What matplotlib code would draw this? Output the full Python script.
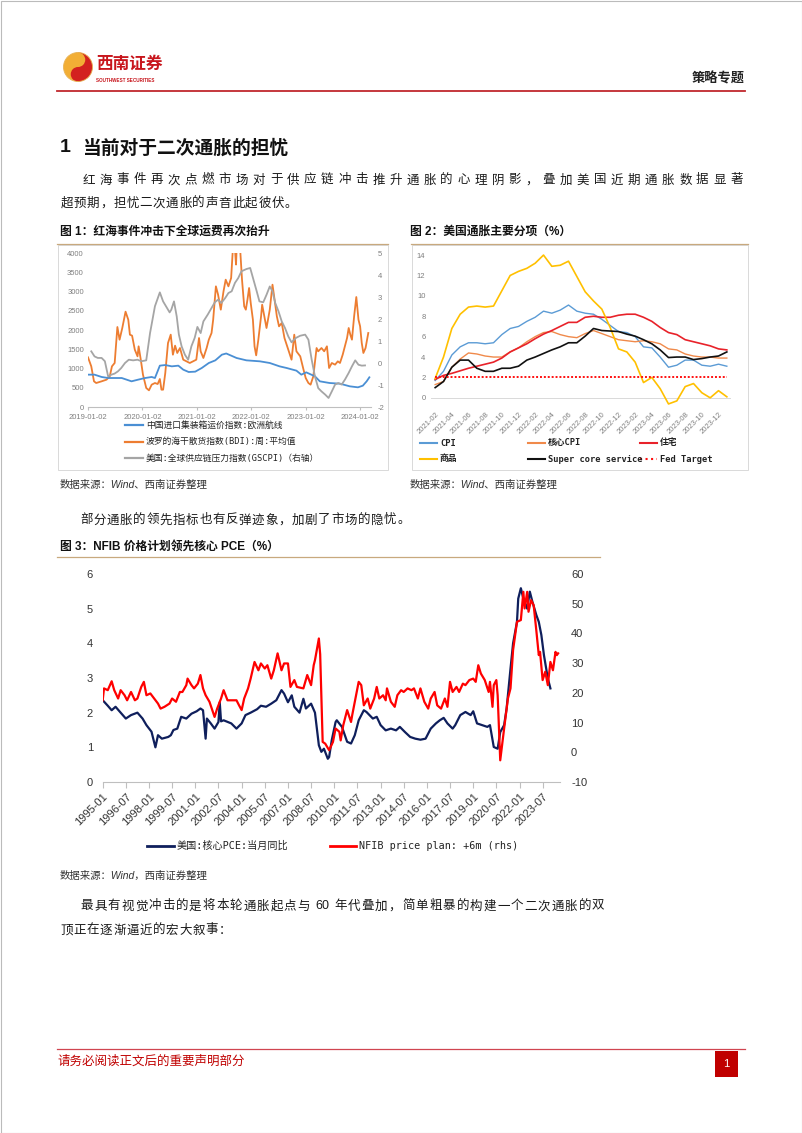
import re
import numpy as np
import pandas as pd
import matplotlib
matplotlib.use('Agg')
import matplotlib.pyplot as plt
from matplotlib.patches import Rectangle, Circle, Wedge

W, H = 802, 1133
CJK = ['Noto Sans CJK SC', 'DejaVu Sans']
MONO = ['DejaVu Sans Mono', 'Noto Sans CJK SC']
ARIAL = ['Liberation Sans', 'Noto Sans CJK SC']
plt.rcParams['font.family'] = CJK
plt.rcParams['axes.unicode_minus'] = False

# ---------------- chart 1 data (decimal years) ----------------
t_ccfi = [2019.00, 2019.12, 2019.25, 2019.37, 2019.62, 2019.80, 2019.92, 2020.05, 2020.17, 2020.23,
          2020.32, 2020.42, 2020.54, 2020.66, 2020.75, 2020.85, 2020.97, 2021.09, 2021.22, 2021.34,
          2021.46, 2021.54, 2021.73, 2021.91, 2022.16, 2022.34, 2022.52, 2022.65, 2022.83, 2022.92,
          2023.01, 2023.17, 2023.26, 2023.44, 2023.63, 2023.81, 2023.96, 2024.05, 2024.12, 2024.17]
ccfi = [840, 840, 780, 753, 753, 667, 710, 753, 780, 753,
        1074, 1090, 1056, 1074, 970, 909, 918, 1013, 1143, 1212,
        1359, 1390, 1273, 1212, 1186, 1143, 1056, 1013, 944, 840,
        900, 797, 667, 623, 606, 537, 511, 554, 667, 771]

t_bdi = [2019.00, 2019.06, 2019.11, 2019.15, 2019.25, 2019.34, 2019.40, 2019.44, 2019.49, 2019.54,
         2019.58, 2019.63, 2019.69, 2019.74, 2019.77, 2019.81, 2019.86, 2019.91, 2019.93, 2019.97,
         2020.01, 2020.07, 2020.12, 2020.17, 2020.23, 2020.28, 2020.32, 2020.35, 2020.38, 2020.42,
         2020.47, 2020.52, 2020.56, 2020.60, 2020.64, 2020.69, 2020.75, 2020.81, 2020.87, 2020.93,
         2020.99, 2021.04, 2021.07, 2021.12, 2021.18, 2021.22, 2021.27, 2021.30, 2021.35, 2021.39,
         2021.44, 2021.49, 2021.53, 2021.58, 2021.63, 2021.67, 2021.70, 2021.72, 2021.75, 2021.78,
         2021.80, 2021.83, 2021.87, 2021.90, 2021.93, 2021.96, 2021.99, 2022.03, 2022.06, 2022.09,
         2022.13, 2022.18, 2022.20, 2022.24, 2022.28, 2022.34, 2022.39, 2022.42, 2022.47, 2022.51,
         2022.56, 2022.61, 2022.65, 2022.70, 2022.74, 2022.79, 2022.83, 2022.90, 2022.96, 2023.00,
         2023.05, 2023.09, 2023.14, 2023.20, 2023.23, 2023.29, 2023.34, 2023.39, 2023.43, 2023.48,
         2023.54, 2023.59, 2023.63, 2023.68, 2023.72, 2023.76, 2023.79, 2023.82, 2023.85, 2023.89,
         2023.93, 2023.97, 2024.00, 2024.03, 2024.06, 2024.10, 2024.15]
bdi = [1290, 1056, 667, 623, 667, 710, 797, 1056, 1143, 2078,
       1749, 2052, 2476, 2268, 1879, 1853, 1489, 1316, 1576, 1229,
       840, 494, 433, 580, 623, 597, 727, 450, 450, 883,
       1662, 1879, 1359, 1593, 1403, 1532, 1229, 1186, 1143, 1186,
       1229, 1792, 1446, 1273, 1532, 1749, 1922, 2268, 3134, 2918,
       2528, 3004, 3307, 3134, 3350, 4300, 4100, 3700, 4800, 5600,
       4000, 3307, 2615, 2528, 2788, 3091, 2701, 2268, 1576, 1342,
       1749, 2355, 2658, 2355, 2052, 2528, 3177, 2874, 2355, 2095,
       2182, 1792, 1619, 1403, 1229, 1879, 1446, 1316, 970, 753,
       623, 580, 797, 1532, 1446, 1532, 1446, 1576, 1013, 1143,
       1100, 1186, 1143, 1359, 1576, 1792, 2052, 1879, 1749, 2355,
       2857, 2268, 2095, 1662, 1403, 1532, 1922]

t_gscpi = [2019.06, 2019.12, 2019.18, 2019.25, 2019.31, 2019.37, 2019.43, 2019.49, 2019.55, 2019.61,
           2019.68, 2019.75, 2019.83, 2019.91, 2019.98, 2020.07, 2020.14, 2020.23, 2020.32, 2020.38,
           2020.44, 2020.50, 2020.53, 2020.58, 2020.63, 2020.67, 2020.72, 2020.78, 2020.84, 2020.90,
           2020.96, 2021.01, 2021.07, 2021.12, 2021.20, 2021.27, 2021.33, 2021.39, 2021.45, 2021.52,
           2021.58, 2021.64, 2021.70, 2021.76, 2021.82, 2021.91, 2021.98, 2022.04, 2022.10, 2022.15,
           2022.22, 2022.28, 2022.34, 2022.39, 2022.44, 2022.50, 2022.56, 2022.62, 2022.68, 2022.74,
           2022.82, 2022.90, 2022.99, 2023.05, 2023.11, 2023.17, 2023.23, 2023.29, 2023.36, 2023.42,
           2023.48, 2023.54, 2023.60, 2023.66, 2023.72, 2023.79, 2023.85, 2023.91, 2023.97, 2024.03,
           2024.09]
gscpi = [0.53, 0.30, 0.23, 0.23, 0.08, -0.61, -0.53, -0.48, -0.38, -0.23,
         0.00, 0.15, 0.12, 0.15, 0.08, 0.12, 1.36, 2.58, 3.21, 2.80,
         2.55, 2.30, 2.42, 2.80, 2.12, 1.29, 0.76, 0.38, 0.15, 0.76,
         1.14, 1.64, 1.36, 1.89, 2.20, 2.50, 2.76, 2.88, 2.73, 2.95,
         3.18, 3.26, 3.64, 3.86, 4.17, 4.27, 4.32, 3.79, 3.26, 2.80,
         2.76, 3.10, 3.48, 3.26, 2.73, 2.35, 1.89, 1.59, 1.21, 0.94,
         1.14, 1.24, 1.29, 1.06, 0.15, -0.61, -1.14, -1.29, -1.44, -1.59,
         -1.29, -0.98, -0.91, -0.98, -0.76, -0.45, -0.15, 0.12, -0.08, -0.12,
         -0.11]

years1 = [2019, 2020, 2021, 2022, 2023, 2024]
year_labels1 = ['2019-01-02', '2020-01-02', '2021-01-02', '2022-01-02', '2023-01-02', '2024-01-02']

# ---------------- chart 2 data (monthly, 2021-02 .. 2024-01) ----------------
months2 = pd.date_range('2021-02-01', '2024-01-01', freq='MS').strftime('%Y-%m').tolist()
cpi = [1.7, 2.6, 4.2, 5.0, 5.4, 5.4, 5.3, 5.4, 6.2, 6.8, 7.0, 7.5, 7.9, 8.5, 8.3, 8.6, 9.1, 8.5,
       8.3, 8.2, 7.7, 7.1, 6.5, 6.4, 6.0, 5.0, 4.9, 4.0, 3.0, 3.2, 3.7, 3.7, 3.2, 3.1, 3.3, 3.1]
core_cpi = [1.3, 1.6, 3.0, 3.8, 4.4, 4.3, 4.1, 4.0, 4.0, 4.5, 4.9, 5.5, 6.0, 6.4, 6.5, 6.2, 6.0, 5.9,
            6.3, 6.6, 6.3, 6.0, 5.7, 5.6, 5.5, 5.6, 5.5, 5.3, 4.8, 4.7, 4.3, 4.1, 4.0, 4.0, 3.9, 3.9]
shelter = [1.8, 2.2, 2.4, 2.65, 2.9, 3.1, 3.3, 3.5, 3.9, 4.5, 4.9, 5.3, 5.8, 6.25, 6.6, 7.0, 7.4, 7.4,
           7.9, 8.0, 7.9, 7.9, 8.1, 8.2, 8.2, 7.9, 7.5, 6.9, 6.4, 6.2, 5.7, 5.5, 5.3, 5.1, 4.8, 4.7]
goods = [1.9, 4.0, 6.8, 8.2, 8.9, 9.0, 8.9, 9.0, 10.5, 12.0, 12.4, 12.7, 13.2, 14.0, 12.9, 13.0, 13.4, 11.9,
         10.4, 9.5, 8.7, 6.9, 4.8, 4.5, 3.5, 1.5, 2.0, 0.9, -0.6, -0.3, 1.1, 1.4, 0.5, 0.0, 0.7, 0.1]
supercore = [1.0, 1.6, 3.0, 3.7, 3.7, 2.9, 2.6, 2.6, 2.9, 2.9, 3.1, 3.7, 4.0, 4.35, 4.7, 5.0, 5.4, 5.4,
             6.05, 6.8, 6.6, 6.55, 6.5, 6.25, 6.05, 5.7, 5.3, 4.7, 3.95, 4.0, 4.0, 3.75, 3.85, 4.0, 4.1, 4.5]
fed_target = [2.0] * 36

# ---------------- chart 3 data ----------------
pce_month = ['1995-01', '1995-05', '1995-08', '1995-11', '1996-03', '1996-07', '1996-11', '1997-04', '1997-08', '1997-11',
             '1998-03', '1998-06', '1998-08', '1998-11', '1999-04', '1999-06', '1999-08', '1999-11', '2000-02', '2000-06',
             '2000-10', '2001-02', '2001-05', '2001-07', '2001-09', '2001-10', '2002-01', '2002-04', '2002-07', '2002-08',
             '2002-09', '2002-11', '2003-05', '2003-09', '2004-01', '2004-04', '2004-08', '2005-01', '2005-04', '2005-08',
             '2005-12', '2006-04', '2006-08', '2006-10', '2007-01', '2007-04', '2007-06', '2007-10', '2008-01', '2008-03',
             '2008-07', '2008-10', '2009-01', '2009-03', '2009-05', '2009-08', '2009-09', '2009-11', '2010-02', '2010-03',
             '2010-07', '2010-11', '2011-02', '2011-05', '2011-08', '2011-12', '2012-02', '2012-07', '2012-10', '2013-01',
             '2013-05', '2013-09', '2014-01', '2014-04', '2014-08', '2014-12', '2015-04', '2015-08', '2015-12', '2016-04',
             '2016-08', '2016-11', '2017-02', '2017-05', '2017-09', '2017-11', '2018-03', '2018-07', '2018-11', '2019-01',
             '2019-04', '2019-08', '2019-12', '2020-02', '2020-05', '2020-08', '2020-10', '2021-01', '2021-03', '2021-06',
             '2021-08', '2021-11', '2021-12', '2022-02', '2022-04', '2022-07', '2022-09', '2022-11', '2023-02', '2023-04',
             '2023-06', '2023-08', '2023-11', '2024-01']
pce = [2.36, 2.20, 2.07, 2.17, 2.00, 1.83, 1.93, 2.00, 1.83, 1.64,
       1.45, 1.00, 1.35, 1.25, 1.30, 1.35, 1.50, 1.54, 1.88, 1.83,
       1.97, 2.04, 2.12, 2.07, 1.25, 1.83, 1.69, 1.54, 1.73, 2.30,
       1.75, 1.78, 1.69, 1.54, 1.69, 1.93, 2.00, 2.10, 2.20, 2.17,
       2.26, 2.36, 2.65, 2.55, 2.30, 2.50, 2.17, 2.00, 2.40, 2.12,
       2.26, 2.00, 1.06, 0.87, 0.96, 0.67, 0.72, 1.20, 1.73, 1.78,
       1.59, 1.16, 1.11, 1.35, 1.78, 2.07, 2.02, 1.83, 1.88, 1.64,
       1.49, 1.54, 1.49, 1.59, 1.44, 1.30, 1.25, 1.22, 1.25, 1.54,
       1.69, 1.78, 1.85, 1.69, 1.54, 1.64, 1.93, 2.02, 1.93, 2.04,
       1.69, 1.64, 1.59, 1.64, 1.01, 0.96, 1.44, 1.64, 2.12, 3.27,
       4.00, 4.62, 5.29, 5.59, 5.29, 5.00, 5.49, 5.20, 4.82, 4.62,
       4.24, 3.66, 2.99, 2.70]

nfib_month = ['1995-01', '1995-02', '1995-05', '1995-08', '1995-10', '1996-01', '1996-03', '1996-06', '1996-08', '1996-11',
              '1997-02', '1997-04', '1997-07', '1997-09', '1997-11', '1998-02', '1998-05', '1998-08', '1998-10', '1999-01',
              '1999-05', '1999-07', '1999-10', '2000-01', '2000-03', '2000-06', '2000-07', '2000-10', '2000-12', '2001-03',
              '2001-05', '2001-07', '2001-09', '2001-12', '2002-04', '2002-06', '2002-09', '2002-11', '2003-02', '2003-05',
              '2003-09', '2003-11', '2004-01', '2004-03', '2004-06', '2004-08', '2004-11', '2005-02', '2005-04', '2005-07',
              '2005-09', '2005-12', '2006-02', '2006-05', '2006-08', '2006-10', '2007-01', '2007-03', '2007-06', '2007-08',
              '2008-01', '2008-04', '2008-07', '2008-09', '2008-10', '2009-01', '2009-02', '2009-04', '2009-06', '2009-09',
              '2009-12', '2010-02', '2010-05', '2010-06', '2010-08', '2010-11', '2011-02', '2011-03', '2011-06', '2011-08',
              '2011-10', '2011-12', '2012-03', '2012-05', '2012-08', '2012-10', '2012-12', '2013-03', '2013-05', '2013-06',
              '2013-09', '2013-12', '2014-02', '2014-05', '2014-07', '2014-10', '2015-01', '2015-03', '2015-06', '2015-08',
              '2015-11', '2016-02', '2016-04', '2016-07', '2016-09', '2016-12', '2017-03', '2017-05', '2017-07', '2017-09',
              '2017-12', '2018-02', '2018-05', '2018-07', '2018-10', '2019-01', '2019-03', '2019-05', '2019-07', '2019-10',
              '2020-01', '2020-02', '2020-04', '2020-05', '2020-07', '2020-08', '2020-10', '2021-01', '2021-04', '2021-06',
              '2021-08', '2021-11', '2022-02', '2022-04', '2022-05', '2022-07', '2022-08', '2022-10', '2022-12', '2023-02',
              '2023-04', '2023-05', '2023-07', '2023-09', '2023-11', '2024-01', '2024-03', '2024-05', '2024-06', '2024-07']
nfib = [17.5, 21.5, 20.9, 23.9, 20.9, 18.1, 20.9, 19.2, 17.5, 20.3,
        17.5, 18.1, 22.0, 23.7, 19.2, 19.8, 18.1, 16.4, 14.7, 15.3,
        16.4, 18.1, 17.0, 20.3, 20.3, 22.6, 24.8, 22.6, 21.5, 23.1,
        26.0, 21.5, 19.2, 17.0, 11.9, 14.7, 18.1, 20.9, 17.5, 17.5,
        17.5, 15.8, 14.2, 18.1, 21.5, 24.8, 30.4, 27.6, 29.9, 28.2,
        29.3, 24.8, 27.6, 33.3, 27.6, 29.9, 29.9, 22.0, 24.3, 22.0,
        21.5, 26.0, 22.6, 29.3, 31.0, 38.3, 33.0, 3.5, 2.9, 0.7,
        3.5, 8.0, 6.9, 4.0, 9.1, 14.2, 10.2, 12.5, 19.2, 23.7,
        22.6, 15.8, 18.1, 14.7, 18.1, 22.0, 18.1, 19.2, 17.5, 21.5,
        17.0, 15.3, 19.2, 20.9, 20.3, 21.5, 20.9, 21.5, 18.1, 21.5,
        17.0, 14.7, 18.1, 20.3, 15.8, 14.7, 18.1, 15.3, 23.7, 20.3,
        22.0, 20.3, 23.1, 22.6, 24.3, 24.8, 23.7, 29.3, 26.5, 24.3,
        20.3, 23.7, 15.3, 22.6, 24.3, 19.2, -2.7, 8.0, 18.1, 21.5,
        34.4, 43.9, 44.5, 54.0, 48.4, 54.0, 47.3, 51.2, 49.5, 41.1,
        32.7, 33.8, 24.3, 27.1, 22.6, 30.4, 27.6, 33.8, 32.7, 33.3]

xticks3 = pd.date_range('1995-01-01', '2023-07-01', freq='18MS')

# ---------------- page ----------------
fig = plt.figure(figsize=(W / 100, H / 100), dpi=100)
page = fig.add_axes([0, 0, 1, 1])
page.set_xlim(0, W)
page.set_ylim(H, 0)
page.axis('off')


def ax_px(l, t, r, b):
    a = fig.add_axes([l / W, 1 - b / H, (r - l) / W, (b - t) / H])
    a.set_facecolor('none')
    return a


def T(x, y, s, size=9, **kw):
    kw.setdefault('va', 'center')
    page.text(x, y, s, fontsize=size, **kw)


def tokens(s):
    return re.findall(r'[A-Za-z0-9]+| |.', s)


def jline(x0, y, s, x1=None, pitch=13.2, size=9, color='#1a1a1a'):
    tk = tokens(s)
    ws = [0.3 if t == ' ' else (0.56 * len(t) if t.isascii() else 1.0) for t in tk]
    if x1 is not None:
        pitch = (x1 - x0) / sum(ws)
    x = x0
    for t, w in zip(tk, ws):
        if t != ' ':
            fam = ARIAL if t.isascii() else CJK
            page.text(x + w * pitch / 2, y, t, ha='center', va='center', fontsize=size,
                      color=color, family=fam)
        x += w * pitch


page.add_patch(Rectangle((0.5, 0.5), W - 1, H - 1, fill=False, ec='#BBBBBB', lw=0.8))

# header logo: gold / red swirl
cx, cy, r = 78, 67, 14.5
page.add_patch(Circle((cx, cy), r, fc='#F2AE35', ec='none'))
page.add_patch(Wedge((cx, cy), r, -90, 90, fc='#D3211F', ec='none'))
page.add_patch(Circle((cx, cy - r / 2), r / 2, fc='#F2AE35', ec='none'))
page.add_patch(Circle((cx, cy + r / 2), r / 2, fc='#D3211F', ec='none'))
page.add_patch(Circle((cx, cy), r, fill=False, ec='#E8B45A', lw=0.6))
T(96, 64, '西南证券', 12, color='#C8161D', weight='bold')
T(96, 80, 'SOUTHWEST SECURITIES', 3.3, color='#C8161D', family=ARIAL, weight='bold')
T(745, 78, '策略专题', 9.5, color='#222222', weight='bold', ha='right')
page.plot([57, 745], [91, 91], color='#C0272D', lw=1.3)

T(60, 148, '1', 14, family=ARIAL, weight='bold', color='#111111')
T(82, 148, '当前对于二次通胀的担忧', 13.5, weight='bold', color='#111111')

jline(80, 180, '红海事件再次点燃市场对于供应链冲击推升通胀的心理阴影，叠加美国近期通胀数据显著', x1=745)
jline(60, 203, '超预期，担忧二次通胀的声音此起彼伏。')

# figure titles and frames
T(60, 232, '图 1：红海事件冲击下全球运费再次抬升', 8.5, weight='bold', family=ARIAL, color='#111111')
T(410, 232, '图 2：美国通胀主要分项（%）', 8.5, weight='bold', family=ARIAL, color='#111111')
for l, r in [(57, 388), (411, 748)]:
    page.add_patch(Rectangle((l + 1, 245), r - l - 1, 225, fill=False, ec='#D9D9D9', lw=0.7))
    page.plot([l, r], [244, 244], color='#C8A97E', lw=0.9)

T(60, 485, '数据来源：Wind、西南证券整理', 7.5, style='italic', family=ARIAL, color='#333333')
T(410, 485, '数据来源：Wind、西南证券整理', 7.5, style='italic', family=ARIAL, color='#333333')

# ---------------- chart 1 ----------------
tick_c = '#7F7F7F'
ax1 = ax_px(88, 253, 371, 407)
ax1.plot(t_ccfi, ccfi, color='#4A8FD4', lw=1.3, zorder=3)
ax1.plot(t_bdi, bdi, color='#ED7D31', lw=1.3, zorder=2)
ax1.set_xlim(2019.0, 2024.2)
ax1.set_ylim(0, 4000)
ax1.set_yticks(range(0, 4001, 500))
ax1.set_xticks(years1)
ax1.set_xticklabels(year_labels1, family=ARIAL)
for s in ['top', 'left', 'right']:
    ax1.spines[s].set_visible(False)
ax1.spines['bottom'].set_color('#BFBFBF')
ax1.tick_params(axis='y', length=0, labelsize=5.5, labelcolor=tick_c, pad=3)
ax1.tick_params(axis='x', length=2, color='#BFBFBF', labelsize=5.5, labelcolor=tick_c, pad=3)
ax1b = ax1.twinx()
ax1b.set_facecolor('none')
ax1b.plot(t_gscpi, gscpi, color='#A5A5A5', lw=1.3)
ax1b.set_ylim(-2, 5)
ax1b.set_yticks(range(-2, 6))
for s in ['top', 'left', 'right', 'bottom']:
    ax1b.spines[s].set_visible(False)
ax1b.tick_params(axis='y', length=0, labelsize=5.5, labelcolor=tick_c, pad=5)
for lab in ax1.get_yticklabels() + ax1b.get_yticklabels():
    lab.set_family(ARIAL)

leg1 = [('#4A8FD4', '中国进口集装箱运价指数:欧洲航线'),
        ('#ED7D31', '波罗的海干散货指数(BDI):周:平均值'),
        ('#A5A5A5', '美国:全球供应链压力指数(GSCPI)（右轴）')]
for i, (c, s) in enumerate(leg1):
    y = 425 + i * 16.5
    page.plot([125, 143], [y, y], color=c, lw=1.6)
    T(146, y, s, 6.3, family=MONO, color='#222222')

# ---------------- chart 2 ----------------
idx = np.arange(len(months2))
ax2 = ax_px(431, 251, 731, 407)
ax2.axhline(0, color='#D9D9D9', lw=0.7)
ax2.plot(idx, cpi, color='#5B9BD5', lw=1.0)
ax2.plot(idx, core_cpi, color='#F08A4B', lw=1.0)
ax2.plot(idx, shelter, color='#E8222A', lw=1.2)
ax2.plot(idx, goods, color='#FFC000', lw=1.2)
ax2.plot(idx, supercore, color='#111111', lw=1.2)
ax2.plot(idx, fed_target, color='#FF1010', lw=1.4, ls=(0, (1, 1)))
ax2.set_xlim(-0.5, 35.5)
ax2.set_ylim(-0.9, 14.4)
ax2.set_yticks(range(0, 15, 2))
ax2.set_xticks(idx[::2])
ax2.set_xticklabels(months2[::2], rotation=45, ha='right', rotation_mode='anchor', family=ARIAL)
for s in ax2.spines.values():
    s.set_visible(False)
ax2.tick_params(axis='y', length=0, labelsize=5.5, labelcolor=tick_c, pad=4)
ax2.tick_params(axis='x', length=0, labelsize=5.5, labelcolor=tick_c, pad=3)
for lab in ax2.get_yticklabels():
    lab.set_family(ARIAL)

leg2 = [('#5B9BD5', '-', 'CPI'), ('#F08A4B', '-', '核心CPI'), ('#E8222A', '-', '住宅'),
        ('#FFC000', '-', '商品'), ('#111111', '-', 'Super core service'), ('#FF1010', ':', 'Fed Target')]
cols = [420, 528, 640]
for i, (c, ls, s) in enumerate(leg2):
    x = cols[i % 3]
    y = 443 if i < 3 else 459
    page.plot([x, x + 17], [y, y], color=c, lw=1.5, ls=ls)
    T(x + 20, y, s, 6.3, family=MONO, weight='bold', color='#222222')

# ---------------- paragraph 2 + chart 3 ----------------
jline(80, 520, '部分通胀的领先指标也有反弹迹象，加剧了市场的隐忧。')
T(60, 547, '图 3：NFIB 价格计划领先核心 PCE（%）', 8.5, weight='bold', family=ARIAL, color='#111111')
page.plot([57, 600], [557, 557], color='#C8A97E', lw=0.9)

ax3 = ax_px(102.7, 574, 560, 782)
ax3.plot(pd.to_datetime(pce_month), pce, color='#0F1F5C', lw=1.6)
ax3.set_xlim(pd.Timestamp('1995-01-01'), pd.Timestamp('2024-08-15'))
ax3.set_ylim(0, 6)
ax3.set_yticks(range(0, 7))
ax3.set_xticks(xticks3)
ax3.set_xticklabels(xticks3.strftime('%Y-%m'), rotation=45, ha='right',
                    rotation_mode='anchor', family=ARIAL)
for s in ['top', 'left', 'right']:
    ax3.spines[s].set_visible(False)
ax3.spines['bottom'].set_color('#BFBFBF')
ax3.tick_params(axis='y', length=0, labelsize=8, labelcolor='#333333', pad=7)
ax3.tick_params(axis='x', length=4, color='#BFBFBF', labelsize=8, labelcolor='#333333', pad=3)
ax3b = ax3.twinx()
ax3b.set_facecolor('none')
ax3b.plot(pd.to_datetime(nfib_month), nfib, color='#FF0000', lw=1.6)
ax3b.set_ylim(-10, 60)
ax3b.set_yticks(range(-10, 61, 10))
for s in ax3b.spines.values():
    s.set_visible(False)
ax3b.tick_params(axis='y', length=0, labelsize=8, labelcolor='#333333', pad=8)
for lab in ax3.get_yticklabels() + ax3b.get_yticklabels():
    lab.set_family(ARIAL)

page.plot([147, 174], [846, 846], color='#0F1F5C', lw=2)
T(177, 846, '美国:核心PCE:当月同比', 7.3, family=MONO, color='#222222')
page.plot([330, 356], [846, 846], color='#FF0000', lw=2)
T(359, 846, 'NFIB price plan: +6m (rhs)', 7.3, family=MONO, color='#222222')

T(60, 876, '数据来源：Wind，西南证券整理', 7.5, style='italic', family=ARIAL, color='#333333')

jline(80, 906, '最具有视觉冲击的是将本轮通胀起点与 60 年代叠加，简单粗暴的构建一个二次通胀的双', x1=605)
jline(60, 930, '顶正在逐渐逼近的宏大叙事：')

# footer
page.plot([57, 745], [1049, 1049], color='#D04550', lw=0.9)
T(57, 1061, '请务必阅读正文后的重要声明部分', 9, color='#C00000')
page.add_patch(Rectangle((715, 1051), 23, 26, fc='#C00000', ec='none'))
T(726.5, 1064, '1', 8, color='white', ha='center', family=ARIAL)

fig.savefig('out.png', dpi=100)
